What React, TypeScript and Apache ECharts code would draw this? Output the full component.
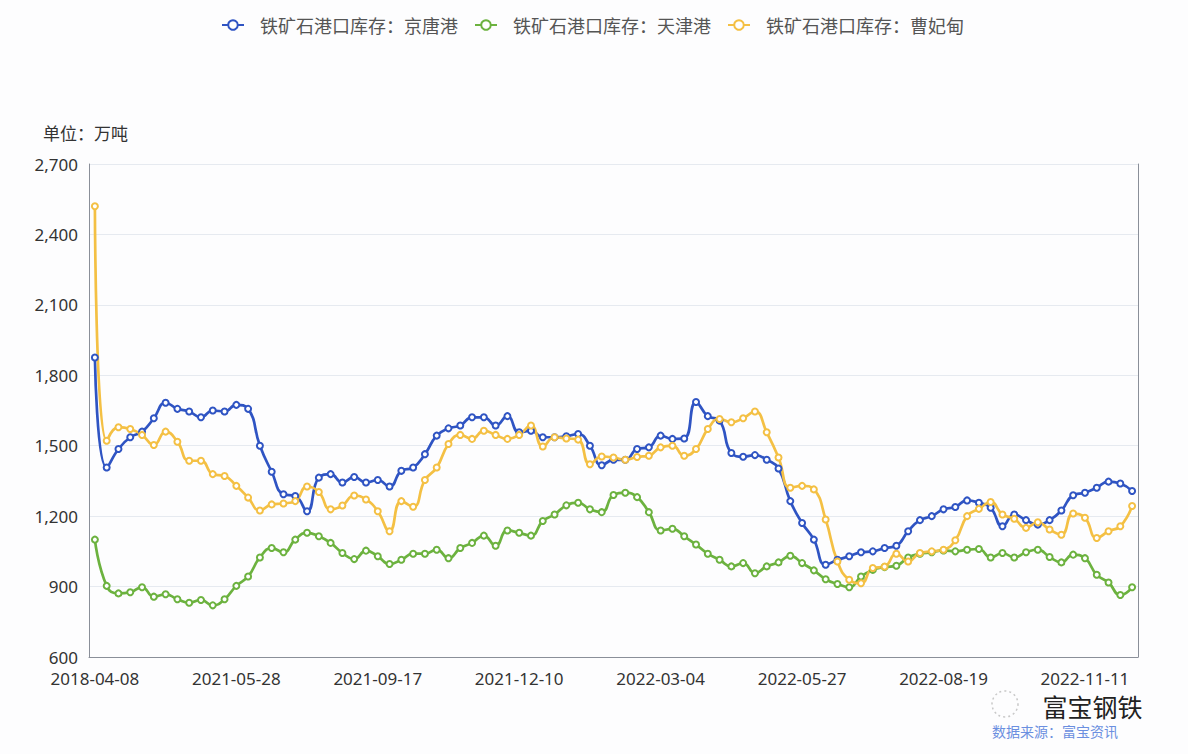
import React, { useEffect, useRef } from "react";
import * as echarts from "echarts";

const dates: string[] = [
  "2018-04-08", "2021-03-12", "2021-03-19", "2021-03-26", "2021-04-02", "2021-04-09", "2021-04-16", "2021-04-23",
  "2021-04-30", "2021-05-07", "2021-05-14", "2021-05-21", "2021-05-28", "2021-06-04", "2021-06-11", "2021-06-18",
  "2021-06-25", "2021-07-02", "2021-07-09", "2021-07-16", "2021-07-23", "2021-08-06", "2021-08-20", "2021-09-03",
  "2021-09-17", "2021-09-24", "2021-10-01", "2021-10-08", "2021-10-15", "2021-10-22", "2021-10-29", "2021-11-05",
  "2021-11-12", "2021-11-19", "2021-11-26", "2021-12-03", "2021-12-10", "2021-12-17", "2021-12-24", "2021-12-31",
  "2022-01-07", "2022-01-14", "2022-01-21", "2022-01-28", "2022-02-04", "2022-02-11", "2022-02-18", "2022-02-25",
  "2022-03-04", "2022-03-11", "2022-03-18", "2022-03-25", "2022-04-01", "2022-04-08", "2022-04-15", "2022-04-22",
  "2022-04-29", "2022-05-06", "2022-05-13", "2022-05-20", "2022-05-27", "2022-06-03", "2022-06-10", "2022-06-17",
  "2022-06-24", "2022-07-01", "2022-07-08", "2022-07-15", "2022-07-22", "2022-07-29", "2022-08-05", "2022-08-12",
  "2022-08-19", "2022-08-26", "2022-09-02", "2022-09-09", "2022-09-16", "2022-09-23", "2022-09-30", "2022-10-07",
  "2022-10-14", "2022-10-21", "2022-10-28", "2022-11-04", "2022-11-11", "2022-11-18", "2022-11-25", "2022-12-02",
  "2022-12-09",
];

const jingtang: number[] = [
  1876, 1407, 1486, 1536, 1560, 1617, 1683, 1657, 1646, 1621, 1650, 1646, 1674, 1657, 1500, 1389,
  1293, 1286, 1221, 1364, 1379, 1343, 1367, 1343, 1354, 1326, 1393, 1407, 1464, 1543, 1574, 1586,
  1621, 1621, 1586, 1626, 1557, 1564, 1536, 1536, 1540, 1550, 1500, 1417, 1440, 1440, 1486, 1493,
  1543, 1529, 1531, 1686, 1626, 1607, 1469, 1453, 1460, 1440, 1403, 1264, 1171, 1100, 993, 1014,
  1029, 1046, 1050, 1064, 1074, 1136, 1183, 1200, 1229, 1239, 1267, 1257, 1236, 1157, 1207, 1183,
  1164, 1183, 1224, 1289, 1300, 1321, 1347, 1339, 1307,
];

const tianjin: number[] = [
  1100, 903, 871, 876, 897, 857, 867, 846, 831, 843, 820, 846, 903, 943, 1024, 1064,
  1046, 1100, 1129, 1114, 1086, 1043, 1017, 1053, 1029, 996, 1014, 1040, 1040, 1057, 1021, 1064,
  1086, 1117, 1074, 1139, 1129, 1117, 1179, 1207, 1246, 1257, 1229, 1217, 1290, 1300, 1281, 1217,
  1139, 1146, 1114, 1079, 1040, 1014, 986, 1000, 957, 986, 1003, 1031, 1000, 969, 931, 911,
  897, 943, 971, 983, 989, 1024, 1040, 1046, 1054, 1050, 1057, 1060, 1024, 1043, 1024, 1046,
  1057, 1026, 1003, 1036, 1021, 950, 917, 864, 897,
];

const caofeidian: number[] = [
  2520, 1521, 1579, 1571, 1546, 1503, 1560, 1517, 1436, 1436, 1379, 1371, 1329, 1279, 1224, 1250,
  1254, 1264, 1326, 1303, 1229, 1245, 1288, 1271, 1221, 1136, 1264, 1240, 1354, 1407, 1507, 1546,
  1529, 1564, 1546, 1529, 1546, 1586, 1497, 1536, 1531, 1526, 1421, 1454, 1450, 1440, 1452, 1457,
  1493, 1500, 1457, 1486, 1571, 1614, 1600, 1617, 1646, 1557, 1450, 1321, 1329, 1314, 1186, 1007,
  929, 914, 979, 985, 1040, 1007, 1043, 1050, 1057, 1097, 1200, 1231, 1260, 1207, 1189, 1150,
  1174, 1143, 1121, 1211, 1193, 1107, 1136, 1157, 1243,
];

const seriesNames: string[] = ["铁矿石港口库存：京唐港", "铁矿石港口库存：天津港", "铁矿石港口库存：曹妃甸"];
const colors: string[] = ["#2f54c3", "#6cb23f", "#f4c044"];

export default function App() {
  const ref = useRef<HTMLDivElement>(null);
  useEffect(() => {
    if (!ref.current) return;
    const chart = echarts.init(ref.current, undefined, { renderer: "svg" });
    const values = [jingtang, tianjin, caofeidian];
    chart.setOption({
      animation: false,
      backgroundColor: "#fdfdfe",
      color: colors,
      legend: {
        top: 11,
        left: 216,
        itemWidth: 22,
        itemHeight: 12,
        itemGap: 16,
        textStyle: {
          fontSize: 18,
          color: "#555",
          fontFamily: "Noto Sans CJK SC",
          padding: [0, 0, 0, 11],
        },
        data: seriesNames,
      },
      grid: { left: 89, right: 50, top: 164, bottom: 97 },
      xAxis: {
        type: "category",
        boundaryGap: true,
        data: dates,
        axisLine: { lineStyle: { color: "#8a8f99", width: 1 } },
        axisTick: { interval: 11, length: 5, lineStyle: { color: "#8a8f99" } },
        axisLabel: {
          interval: 11,
          fontSize: 17,
          lineHeight: 16,
          color: "#333",
          margin: 13,
          fontFamily: "Noto Sans",
        },
      },
      yAxis: [
        {
          type: "value",
          min: 600,
          max: 2700,
          interval: 300,
          axisLine: { show: true, lineStyle: { color: "#8a8f99" } },
          axisTick: { show: false },
          axisLabel: {
            fontSize: 17,
            lineHeight: 14,
            color: "#333",
            margin: 11,
            fontFamily: "Noto Sans",
            formatter: (v: number) => v.toLocaleString("en-US"),
          },
          splitLine: { lineStyle: { color: "#e6eaf0" } },
        },
        {
          type: "value",
          position: "right",
          min: 600,
          max: 2700,
          interval: 300,
          axisLine: { show: true, lineStyle: { color: "#8a8f99" } },
          axisTick: { show: false },
          axisLabel: { show: false },
          splitLine: { show: false },
        },
      ],
      graphic: [
        {
          type: "text",
          left: 43,
          top: 124,
          style: { text: "单位：万吨", fontSize: 17, fill: "#333", fontFamily: "Noto Sans CJK SC" },
        },
        {
          type: "circle",
          shape: { cx: 1005, cy: 704, r: 13 },
          style: { fill: "none", stroke: "#c8c8c8", lineWidth: 1.5, lineDash: [2, 3] },
        },
        {
          type: "text",
          left: 1042,
          top: 693,
          style: {
            text: "富宝钢铁",
            fontSize: 25,
            lineHeight: 25,
            fill: "#222",
            stroke: "#fff",
            lineWidth: 1,
            fontFamily: "Noto Sans CJK SC",
          },
        },
        {
          type: "text",
          left: 992,
          top: 724,
          style: {
            text: "数据来源：富宝资讯",
            fontSize: 14,
            lineHeight: 14,
            fill: "#6b8fe0",
            fontFamily: "Noto Sans CJK SC",
          },
        },
      ],
      series: seriesNames.map((name, k) => ({
        name,
        type: "line",
        smooth: true,
        data: values[k],
        symbol: "emptyCircle",
        symbolSize: 6,
        lineStyle: { width: 2.7, color: colors[k] },
        itemStyle: { color: colors[k], borderWidth: 1.5 },
      })),
    });
    return () => chart.dispose();
  }, []);
  return <div ref={ref} style={{ position: "fixed", left: 0, top: 0, width: 1188, height: 754 }} />;
}
